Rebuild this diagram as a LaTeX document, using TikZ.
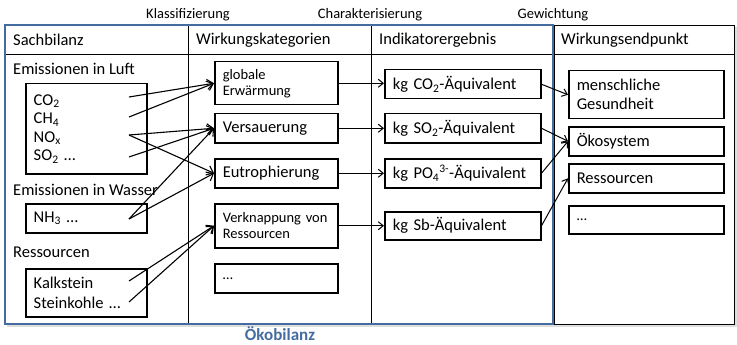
\documentclass[tikz,border=0pt]{standalone}
\usepackage{fontspec}
\setmainfont{Carlito}
\usetikzlibrary{arrows.meta,calc}
\definecolor{okoblue}{RGB}{68,108,160}
\begin{document}
\begin{tikzpicture}[x=1pt,y=-1pt,
  big/.style={font=\fontsize{16.5}{19}\selectfont},
  small/.style={font=\fontsize{14.5}{16}\selectfont},
  lbl/.style={anchor=west,inner sep=0pt,big},
  toplbl/.style={inner sep=0pt,small},
  box/.style={draw,line width=1.5pt,anchor=north west,inner xsep=8pt,inner ysep=0pt,align=left},
  arr/.style={-{Straight Barb[length=6pt,width=10pt]},line width=1.1pt},
  arrs/.style={-{Straight Barb[length=5pt,width=8pt]},line width=1pt},
  tbl/.style={line width=0.9pt}
]
\useasboundingbox (0,0) rectangle (737,345);
% shadow and table
\fill[gray!25] (7,27) rectangle (737,327);
\fill[white] (5,25) rectangle (734,324);
\draw[tbl] (5,25) rectangle (734,324);
\draw[tbl] (5,54) -- (734,54);
\draw[tbl] (188,25) -- (188,324);
\draw[tbl] (371,25) -- (371,324);
\draw[tbl] (554,25) -- (554,324);
\draw[okoblue,line width=2.5pt] (5,25) rectangle (553,324);

% top labels
\node[toplbl] (klass) at (188,15) {Klassifizierung};
\node[toplbl] (chara) at (370,15) {Charakterisierung};
\node[toplbl] (gewi) at (553,15) {Gewichtung};
\node[inner sep=0pt,font=\fontsize{17}{19}\selectfont\bfseries,text=okoblue] (oeko) at (280,334) {Ökobilanz};

% headers
\node[lbl] (h1) at (13,40) {Sachbilanz};
\node[lbl] (h2) at (196,40) {Wirkungskategorien};
\node[lbl] (h3) at (379,40) {Indikatorergebnis};
\node[lbl] (h4) at (561,40) {Wirkungsendpunkt};

% left column
\node[lbl] (l1) at (13,69) {Emissionen in Luft};
\node[lbl] (l2) at (13,190) {Emissionen in Wasser};
\node[lbl] (l3) at (13,252) {Ressourcen};
\node[box,font=\fontsize{16.5}{18.5}\selectfont,text width=105pt,minimum height=90pt] (air) at (25,83)
  {CO\textsubscript{2}\\CH\textsubscript{4}\\NO\textsubscript{x}\\SO\textsubscript{2} …};
\node[box,big,text width=105pt,minimum height=29pt] (water) at (25,203) {NH\textsubscript{3} …};
\node[box,font=\fontsize{16.5}{20}\selectfont,text width=105pt,minimum height=48pt] (res) at (25,268) {Kalkstein\\Steinkohle …};

\coordinate (c1) at (129,97);
\coordinate (c2) at (129,117);
\coordinate (c3) at (129,135);
\coordinate (c4) at (129,157);
\coordinate (c5) at (129,219);
\coordinate (c6) at (129,281);
\coordinate (c7) at (129,302);

% impact categories
\node[box,small,text width=107pt,minimum height=43pt] (gw) at (214,61) {globale\\Erwärmung};
\node[box,big,text width=107pt,minimum height=29pt] (vs) at (214,113) {Versauerung};
\node[box,big,text width=107pt,minimum height=29pt] (eu) at (214,158) {Eutrophierung};
\node[box,small,text width=107pt,minimum height=44pt] (vk) at (214,203) {Verknappung von\\Ressourcen};
\node[box,small,text width=107pt,minimum height=29pt] (d1) at (214,263) {…};

% indicators
\node[box,big,text width=140pt,minimum height=29pt] (co2eq) at (384,69) {kg CO\textsubscript{2}-Äquivalent};
\node[box,big,text width=140pt,minimum height=29pt] (so2eq) at (384,113) {kg SO\textsubscript{2}-Äquivalent};
\node[box,big,text width=140pt,minimum height=29pt] (po4eq) at (384,158) {kg PO\textsubscript{4}\textsuperscript{3-}-Äquivalent};
\node[box,big,text width=140pt,minimum height=28pt] (sbeq) at (384,211) {kg Sb-Äquivalent};

% endpoints
\node[box,big,text width=139pt,minimum height=48pt] (mg) at (568,70) {menschliche\\Gesundheit};
\node[box,big,text width=139pt,minimum height=29pt] (oe) at (568,126) {Ökosystem};
\node[box,big,text width=139pt,minimum height=29pt] (rs) at (568,163) {Ressourcen};
\node[box,small,text width=139pt,minimum height=28pt] (d2) at (568,205) {…};

% classification arrows
\draw[arr] (c1) -- (gw.west);
\draw[arr] (c2) -- (gw.west);
\draw[arr] (c3) -- (vs.west);
\draw[arr] (c4) -- (vs.west);
\draw[arr] (c5) -- (vs.west);
\draw[arr] (c3) -- (eu.west);
\draw[arr] (c5) -- (eu.west);
\draw[arr] (c6) -- (vk.west);
\draw[arr] (c7) -- (vk.west);

% characterisation arrows
\draw[arrs] (gw.east) -- (gw.east -| co2eq.west);
\draw[arrs] (vs.east) -- (vs.east -| so2eq.west);
\draw[arrs] (eu.east) -- (eu.east -| po4eq.west);
\draw[arrs] (vk.east) -- (vk.east -| sbeq.west);

% weighting arrows
\draw[arrs] (co2eq.east) -- (mg.west);
\draw[arrs] (so2eq.east) -- (oe.west);
\draw[arrs] (po4eq.east) -- (oe.west);
\draw[arrs] (sbeq.east) -- (rs.west);
\end{tikzpicture}
\end{document}
